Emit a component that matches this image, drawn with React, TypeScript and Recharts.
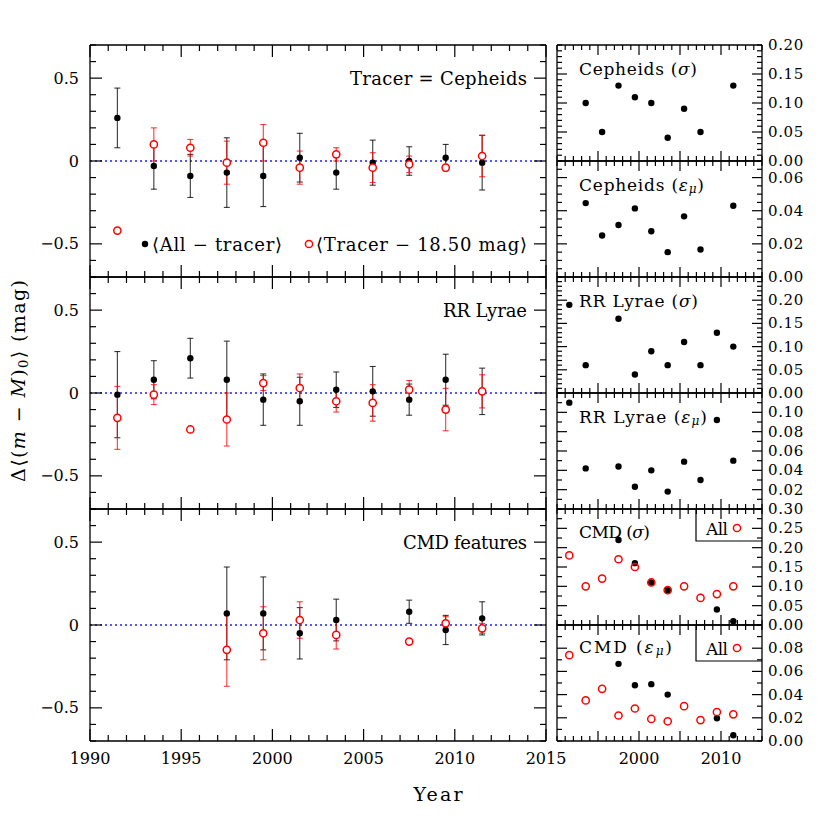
import React from 'react';
import { ScatterChart, Scatter, XAxis, YAxis, ErrorBar, ReferenceLine } from 'recharts';

const FONT = '"DejaVu Serif", "Liberation Serif", serif';

// ---------- data ----------
const years = [1991.5, 1993.5, 1995.5, 1997.5, 1999.5, 2001.5, 2003.5, 2005.5, 2007.5, 2009.5, 2011.5];

// Cepheids (left)
const cephAll = [0.26, -0.03, -0.09, -0.07, -0.09, 0.02, -0.07, -0.01, 0.0, 0.02, -0.01];
const cephAllErr = [0.18, 0.14, 0.13, 0.21, 0.185, 0.147, 0.1, 0.136, 0.086, 0.08, 0.165];
const cephTr = [-0.42, 0.1, 0.08, -0.01, 0.11, -0.04, 0.04, -0.04, -0.02, -0.04, 0.03];
const cephTrErr = [null, 0.1, 0.05, 0.13, 0.11, 0.1, 0.04, 0.09, 0.05, null, 0.125];

// RR Lyrae (left)
const rrAll = [-0.01, 0.08, 0.21, 0.08, -0.04, -0.05, 0.02, 0.01, -0.04, 0.08, 0.01];
const rrAllErr = [0.26, 0.115, 0.12, 0.233, 0.155, 0.145, 0.107, 0.15, 0.094, 0.154, 0.14];
const rrTr = [-0.15, -0.01, -0.22, -0.16, 0.06, 0.03, -0.05, -0.06, 0.02, -0.1, 0.01];
const rrTrErr = [0.19, 0.06, null, 0.16, 0.045, 0.085, 0.065, 0.11, 0.055, 0.128, 0.1];

// CMD features (left)
const cmdAll = [null, null, null, 0.07, 0.07, -0.05, 0.03, null, 0.08, -0.03, 0.04];
const cmdAllErr = [null, null, null, 0.28, 0.22, 0.155, 0.126, null, 0.07, 0.088, 0.1];
const cmdTr = [null, null, null, -0.15, -0.05, 0.03, -0.06, null, -0.1, 0.01, -0.02];
const cmdTrErr = [null, null, null, 0.22, 0.16, 0.11, 0.085, null, null, 0.04, 0.03];

// right panels
const cephSigma = [null, 0.1, 0.05, 0.13, 0.11, 0.1, 0.04, 0.09, 0.05, null, 0.13];
const cephEps = [null, 0.0446, 0.025, 0.0314, 0.0414, 0.0276, 0.015, 0.0366, 0.0166, null, 0.043];
const rrSigma = [0.19, 0.06, null, 0.16, 0.04, 0.09, 0.06, 0.11, 0.06, 0.13, 0.1];
const rrEps = [0.11, 0.042, null, 0.044, 0.023, 0.04, 0.018, 0.049, 0.03, 0.092, 0.05];
const cmdSigmaCmd = [null, null, null, 0.22, 0.16, 0.11, 0.09, null, null, 0.04, 0.01];
const cmdSigmaAll = [0.18, 0.1, 0.12, 0.17, 0.15, 0.11, 0.09, 0.1, 0.07, 0.08, 0.1];
const cmdEpsCmd = [null, null, null, 0.0665, 0.048, 0.049, 0.04, null, null, 0.0196, 0.005];
const cmdEpsAll = [0.074, 0.035, 0.045, 0.022, 0.028, 0.019, 0.017, 0.03, 0.018, 0.025, 0.023];

// ---------- ticks ----------
const xTicksAll = [1990, 1991, 1992, 1993, 1994, 1995, 1996, 1997, 1998, 1999, 2000, 2001, 2002, 2003, 2004, 2005, 2006, 2007, 2008, 2009, 2010, 2011, 2012, 2013, 2014, 2015];
const xMajorLeft = [1990, 1995, 2000, 2005, 2010, 2015];
const xLabelsLeft = [1990, 1995, 2000, 2005, 2010, 2015];
const xMajorRight = [1995, 2000, 2005, 2010];
const xLabelsRight = [2000, 2010];

const leftYTicks = [-0.7, -0.6, -0.5, -0.4, -0.3, -0.2, -0.1, 0, 0.1, 0.2, 0.3, 0.4, 0.5, 0.6, 0.7];
const leftYMajor = [-0.5, 0, 0.5];
const leftYLabels = [-0.5, 0, 0.5];

const cephSigTicks = [0, 0.01, 0.02, 0.03, 0.04, 0.05, 0.06, 0.07, 0.08, 0.09, 0.1, 0.11, 0.12, 0.13, 0.14, 0.15, 0.16, 0.17, 0.18, 0.19, 0.2];
const cephSigMajor = [0.05, 0.1, 0.15];
const cephSigLabels = [0, 0.05, 0.1, 0.15, 0.2];
const cephEpsTicks = [0, 0.005, 0.01, 0.015, 0.02, 0.025, 0.03, 0.035, 0.04, 0.045, 0.05, 0.055, 0.06, 0.065, 0.07];
const cephEpsMajor = [0.02, 0.04, 0.06];
const cephEpsLabels = [0, 0.02, 0.04, 0.06];
const rrSigTicks = [0, 0.01, 0.02, 0.03, 0.04, 0.05, 0.06, 0.07, 0.08, 0.09, 0.1, 0.11, 0.12, 0.13, 0.14, 0.15, 0.16, 0.17, 0.18, 0.19, 0.2, 0.21, 0.22, 0.23, 0.24, 0.25];
const rrSigMajor = [0.05, 0.1, 0.15, 0.2];
const rrSigLabels = [0, 0.05, 0.1, 0.15, 0.2];
const rrEpsTicks = [0, 0.01, 0.02, 0.03, 0.04, 0.05, 0.06, 0.07, 0.08, 0.09, 0.1, 0.11, 0.12];
const rrEpsMajor = [0.02, 0.04, 0.06, 0.08, 0.1];
const rrEpsLabels = [0.02, 0.04, 0.06, 0.08, 0.1];
const cmdSigTicks = [0, 0.025, 0.05, 0.075, 0.1, 0.125, 0.15, 0.175, 0.2, 0.225, 0.25, 0.275, 0.3];
const cmdSigMajor = [0.05, 0.1, 0.15, 0.2, 0.25];
const cmdSigLabels = [0, 0.05, 0.1, 0.15, 0.2, 0.25, 0.3];
const cmdEpsTicks = [0, 0.01, 0.02, 0.03, 0.04, 0.05, 0.06, 0.07, 0.08, 0.09, 0.1];
const cmdEpsMajor = [0.02, 0.04, 0.06, 0.08];
const cmdEpsLabels = [0, 0.02, 0.04, 0.06, 0.08];

// ---------- helpers ----------
type Pt = { x: number; y: number; err: number };
const pts = (ys: (number | null)[], errs?: (number | null)[]): Pt[] =>
  years.flatMap((x, i) => {
    const v = ys[i];
    if (v === null || v === undefined) return [];
    const e = errs ? errs[i] : null;
    return [{ x, y: v, err: e === null || e === undefined ? 0 : e }];
  });

const has = (arr: number[], v: number) => arr.some((a) => Math.abs(a - v) < 1e-7);

const fmtLeft = (v: number) => (Math.abs(v) < 1e-9 ? '0' : v < 0 ? '\u2212' + Math.abs(v).toFixed(1) : v.toFixed(1));
const fmtRight = (v: number) => v.toFixed(2);
const fmtYear = (v: number) => String(v);

type Side = 'bottom' | 'top' | 'left' | 'right';
function tickRenderer(side: Side, major: number[], labels: number[], fmt: (v: number) => string, majorLen: number, minorLen: number, fs: number) {
  return (p: any) => {
    const { x, y, payload } = p;
    const v = Number(payload.value);
    const L = has(major, v) ? majorLen : minorLen;
    const lab = has(labels, v) ? fmt(v) : null;
    let x2 = x, y2 = y, tx = x, ty = y;
    let anchor: 'middle' | 'end' | 'start' = 'middle';
    if (side === 'bottom') { y2 = y - L; ty = y + 17; }
    else if (side === 'top') { y2 = y + L; }
    else if (side === 'left') { x2 = x + L; tx = x - 11; anchor = 'end'; }
    else { x2 = x - L; tx = x + 6; anchor = 'start'; }
    return (
      <g>
        <line x1={x} y1={y} x2={x2} y2={y2} stroke="#000" strokeWidth={1.2} />
        {lab !== null && (
          <text x={tx} y={ty} textAnchor={anchor} dominantBaseline="central" fontFamily={FONT} fontSize={fs}
            letterSpacing={side === 'right' ? 0.6 : 0} fill="#000">
            {lab}
          </text>
        )}
      </g>
    );
  };
}

const DotShape = (p: any) => <circle cx={p.cx} cy={p.cy} r={3.2} fill="#000" />;
const RingWhite = (p: any) => <circle cx={p.cx} cy={p.cy} r={3.6} fill="#fff" stroke="#ff0000" strokeWidth={1.5} />;
const RingOpen = (p: any) => <circle cx={p.cx} cy={p.cy} r={3.6} fill="none" stroke="#ff0000" strokeWidth={1.5} />;

type SeriesDef = { data: Pt[]; shape: any; errColor?: string };
type PanelDef = {
  x: number; y: number; w: number; h: number;
  xMajor: number[]; xLabels: number[];
  yDomain: [number, number]; yTicks: number[]; yMajor: number[];
  yLabelsLeft: number[]; yLabelsRight: number[]; yFmt: (v: number) => string;
  majorLen: number; minorLen: number; zero?: boolean;
  series: SeriesDef[];
};

const YW = 60, XTH = 10, XBH = 30;
const AXL = { stroke: '#000', strokeWidth: 1.3 };

function Panel(d: PanelDef) {
  return (
    <div style={{ position: 'absolute', left: d.x - YW, top: d.y - XTH }}>
      <ScatterChart width={d.w + 2 * YW} height={d.h + XTH + XBH} margin={{ top: 0, right: 0, bottom: 0, left: 0 }}>
        <XAxis xAxisId="b" orientation="bottom" type="number" dataKey="x" domain={[1990, 2015]} allowDataOverflow
          ticks={xTicksAll} interval={0} tickSize={0} tickMargin={0} height={XBH} axisLine={AXL} tickLine={false}
          tick={tickRenderer('bottom', d.xMajor, d.xLabels, fmtYear, d.majorLen, d.minorLen, 16)} />
        <XAxis xAxisId="t" orientation="top" type="number" dataKey="x" domain={[1990, 2015]} allowDataOverflow
          ticks={xTicksAll} interval={0} tickSize={0} tickMargin={0} height={XTH} axisLine={AXL} tickLine={false}
          tick={tickRenderer('top', d.xMajor, [], fmtYear, d.majorLen, d.minorLen, 16)} />
        <YAxis yAxisId="l" orientation="left" type="number" dataKey="y" domain={d.yDomain} allowDataOverflow
          ticks={d.yTicks} interval={0} tickSize={0} tickMargin={0} width={YW} axisLine={AXL} tickLine={false}
          tick={tickRenderer('left', d.yMajor, d.yLabelsLeft, d.yFmt, d.majorLen, d.minorLen, 16)} />
        <YAxis yAxisId="r" orientation="right" type="number" dataKey="y" domain={d.yDomain} allowDataOverflow
          ticks={d.yTicks} interval={0} tickSize={0} tickMargin={0} width={YW} axisLine={AXL} tickLine={false}
          tick={tickRenderer('right', d.yMajor, d.yLabelsRight, d.yFmt, d.majorLen, d.minorLen, 15)} />
        {d.zero && (
          <ReferenceLine xAxisId="b" yAxisId="l" y={0} stroke="#2020ff" strokeWidth={1.6} strokeDasharray="2 3" />
        )}
        {d.series.map((s, i) => (
          <Scatter key={i} xAxisId="b" yAxisId="l" data={s.data} shape={s.shape} isAnimationActive={false}>
            {s.errColor && (
              <ErrorBar dataKey="err" direction="y" width={3} stroke={s.errColor} strokeWidth={1.1} strokeOpacity={0.78} isAnimationActive={false} />
            )}
          </Scatter>
        ))}
      </ScatterChart>
    </div>
  );
}

const LX = 90, LW = 456, LH = 232;
const RX = 557, RW = 205, RH = 116;

const leftCommon = {
  x: LX, w: LW, h: LH, xMajor: xMajorLeft,
  yDomain: [-0.7, 0.7] as [number, number], yTicks: leftYTicks, yMajor: leftYMajor,
  yLabelsLeft: leftYLabels, yLabelsRight: [] as number[], yFmt: fmtLeft,
  majorLen: 12, minorLen: 6, zero: true,
};
const rightCommon = { x: RX, w: RW, h: RH, xMajor: xMajorRight, yLabelsLeft: [] as number[], yFmt: fmtRight, majorLen: 10, minorLen: 5 };

const panels: PanelDef[] = [
  { ...leftCommon, y: 45, xLabels: [], series: [
    { data: pts(cephAll, cephAllErr), shape: DotShape, errColor: '#000' },
    { data: pts(cephTr, cephTrErr), shape: RingWhite, errColor: '#ff0000' },
  ] },
  { ...leftCommon, y: 277, xLabels: [], series: [
    { data: pts(rrAll, rrAllErr), shape: DotShape, errColor: '#000' },
    { data: pts(rrTr, rrTrErr), shape: RingWhite, errColor: '#ff0000' },
  ] },
  { ...leftCommon, y: 509, xLabels: xLabelsLeft, series: [
    { data: pts(cmdAll, cmdAllErr), shape: DotShape, errColor: '#000' },
    { data: pts(cmdTr, cmdTrErr), shape: RingWhite, errColor: '#ff0000' },
  ] },
  { ...rightCommon, y: 45, xLabels: [], yDomain: [0, 0.2], yTicks: cephSigTicks, yMajor: cephSigMajor, yLabelsRight: cephSigLabels,
    series: [{ data: pts(cephSigma), shape: DotShape }] },
  { ...rightCommon, y: 161, xLabels: [], yDomain: [0, 0.07], yTicks: cephEpsTicks, yMajor: cephEpsMajor, yLabelsRight: cephEpsLabels,
    series: [{ data: pts(cephEps), shape: DotShape }] },
  { ...rightCommon, y: 277, xLabels: [], yDomain: [0, 0.25], yTicks: rrSigTicks, yMajor: rrSigMajor, yLabelsRight: rrSigLabels,
    series: [{ data: pts(rrSigma), shape: DotShape }] },
  { ...rightCommon, y: 393, xLabels: [], yDomain: [0, 0.12], yTicks: rrEpsTicks, yMajor: rrEpsMajor, yLabelsRight: rrEpsLabels,
    series: [{ data: pts(rrEps), shape: DotShape }] },
  { ...rightCommon, y: 509, xLabels: [], yDomain: [0, 0.3], yTicks: cmdSigTicks, yMajor: cmdSigMajor, yLabelsRight: cmdSigLabels,
    series: [{ data: pts(cmdSigmaCmd), shape: DotShape }, { data: pts(cmdSigmaAll), shape: RingOpen }] },
  { ...rightCommon, y: 625, xLabels: xLabelsRight, yDomain: [0, 0.1], yTicks: cmdEpsTicks, yMajor: cmdEpsMajor, yLabelsRight: cmdEpsLabels,
    series: [{ data: pts(cmdEpsCmd), shape: DotShape }, { data: pts(cmdEpsAll), shape: RingOpen }] },
];

const T = { fontFamily: FONT, fill: '#000' } as const;

function Overlay() {
  const sub = (s: string) => (
    <>
      <tspan dy={4} fontSize={12} fontStyle="italic">{s}</tspan>
      <tspan dy={-4}>)</tspan>
    </>
  );
  return (
    <svg width={830} height={830} style={{ position: 'absolute', left: 0, top: 0, pointerEvents: 'none' }}>
      {/* left panel titles */}
      <text {...T} x={527} y={78} fontSize={18} textAnchor="end" dominantBaseline="central" textLength={177} lengthAdjust="spacing">Tracer = Cepheids</text>
      <text {...T} x={527} y={310} fontSize={18} textAnchor="end" dominantBaseline="central" textLength={84} lengthAdjust="spacing">RR Lyrae</text>
      <text {...T} x={527} y={542} fontSize={18} textAnchor="end" dominantBaseline="central" textLength={124} lengthAdjust="spacing">CMD features</text>
      {/* legend */}
      <circle cx={145} cy={244} r={3.2} fill="#000" />
      <text {...T} x={152} y={244} fontSize={18} dominantBaseline="central" textLength={130} lengthAdjust="spacing">⟨All − tracer⟩</text>
      <circle cx={309} cy={244} r={3.6} fill="none" stroke="#ff0000" strokeWidth={1.5} />
      <text {...T} x={316} y={244} fontSize={18} dominantBaseline="central" textLength={211} lengthAdjust="spacing">⟨Tracer − 18.50 mag⟩</text>
      {/* right panel titles */}
      <text {...T} x={579} y={69} fontSize={17} dominantBaseline="central" textLength={118} lengthAdjust="spacing">Cepheids (<tspan fontStyle="italic">σ</tspan>)</text>
      <text {...T} x={579} y={185} fontSize={17} dominantBaseline="central" textLength={125} lengthAdjust="spacing">Cepheids (<tspan fontStyle="italic">ε</tspan>{sub('μ')}</text>
      <text {...T} x={579} y={301} fontSize={17} dominantBaseline="central" textLength={119} lengthAdjust="spacing">RR Lyrae (<tspan fontStyle="italic">σ</tspan>)</text>
      <text {...T} x={579} y={417} fontSize={17} dominantBaseline="central" textLength={128} lengthAdjust="spacing">RR Lyrae (<tspan fontStyle="italic">ε</tspan>{sub('μ')}</text>
      <text {...T} x={579} y={532} fontSize={17} dominantBaseline="central" textLength={71} lengthAdjust="spacing">CMD (<tspan fontStyle="italic">σ</tspan>)</text>
      <text {...T} x={579} y={647} fontSize={17} dominantBaseline="central" textLength={93} lengthAdjust="spacing">CMD (<tspan fontStyle="italic">ε</tspan>{sub('μ')}</text>
      {/* All legend boxes */}
      <polyline points="696,509 696,541 762,541" fill="none" stroke="#000" strokeWidth={1.2} />
      <text {...T} x={706} y={529} fontSize={17} dominantBaseline="central" textLength={22} lengthAdjust="spacing">All</text>
      <circle cx={737} cy={528} r={3.6} fill="none" stroke="#ff0000" strokeWidth={1.5} />
      <polyline points="696,625 696,661 762,661" fill="none" stroke="#000" strokeWidth={1.2} />
      <text {...T} x={706} y={649} fontSize={17} dominantBaseline="central" textLength={22} lengthAdjust="spacing">All</text>
      <circle cx={737} cy={648} r={3.6} fill="none" stroke="#ff0000" strokeWidth={1.5} />
      {/* axis titles */}
      <text {...T} x={438} y={794} fontSize={19} textAnchor="middle" dominantBaseline="central" textLength={49} lengthAdjust="spacing">Year</text>
      <text {...T} x={0} y={0} fontSize={19} textAnchor="middle" dominantBaseline="central" transform="translate(18 381) rotate(-90)" textLength={202} lengthAdjust="spacing">
        Δ⟨(<tspan fontStyle="italic">m</tspan> − <tspan fontStyle="italic">M</tspan>)<tspan dy={5} fontSize={13}>0</tspan><tspan dy={-5}>⟩ (mag)</tspan>
      </text>
    </svg>
  );
}

export default function App() {
  return (
    <div style={{ position: 'absolute', left: 0, top: 0, width: 830, height: 830, background: '#fff', overflow: 'hidden' }}>
      {panels.map((p, i) => (
        <Panel key={i} {...p} />
      ))}
      <Overlay />
    </div>
  );
}
